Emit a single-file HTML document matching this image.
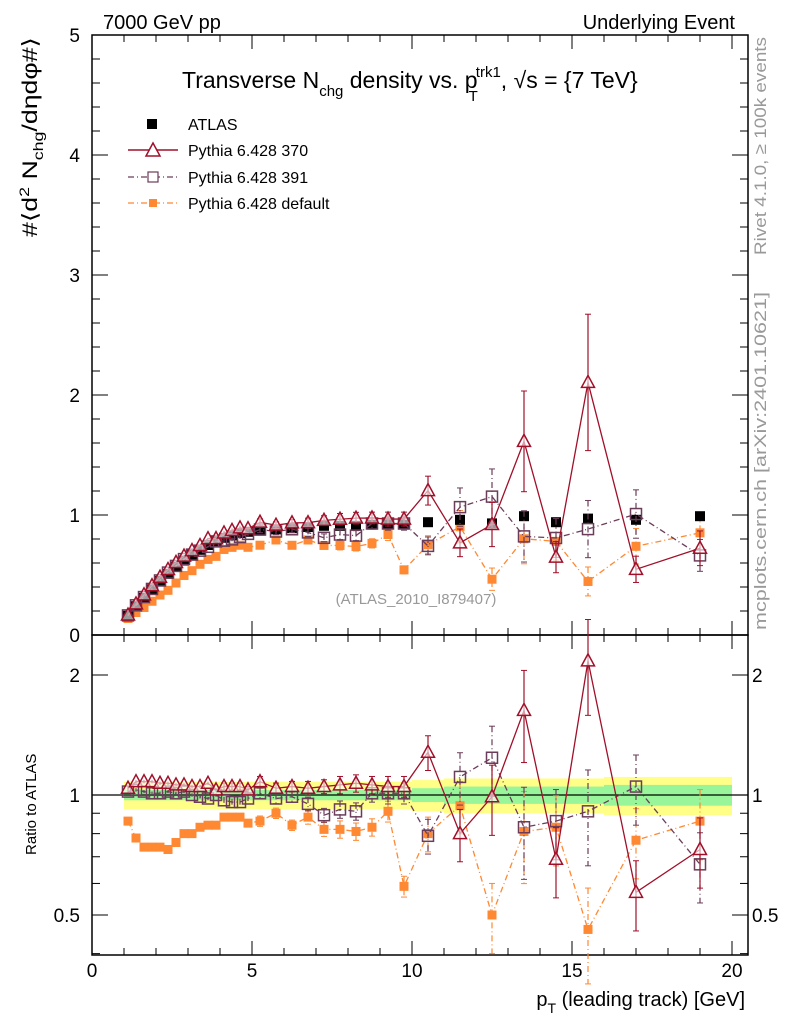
<!DOCTYPE html>
<html><head><meta charset="utf-8"><style>
body{margin:0;background:#fff}
svg{display:block;font-family:"Liberation Sans",sans-serif}
</style></head><body>
<svg id="c" width="786" height="1024" viewBox="0 0 786 1024">
<g id="bands"></g>
<g id="grid"></g>
<g id="series"></g>
<text x="103" y="29" font-size="20">7000 GeV pp</text>
<text x="735" y="29" font-size="20" text-anchor="end">Underlying Event</text>
<text x="182" y="88" font-size="23">Transverse N<tspan font-size="15" dy="8">chg</tspan><tspan dy="-8"> density vs. p</tspan><tspan font-size="15" dx="-9" dy="13">T</tspan><tspan font-size="15" dx="-2" dy="-24">trk1</tspan><tspan dy="11">, √s = {7 TeV}</tspan></text>
<g>
<rect x="147" y="119" width="10" height="10" fill="#000"/>
<text x="188" y="130" font-size="16">ATLAS</text>
<line x1="128" y1="150" x2="178" y2="150" stroke="#a0102a" stroke-width="1.5"/>
<path d="M146,156 L153,143 L160,156 Z" fill="#fff" stroke="#a0102a" stroke-width="1.5"/>
<text x="188" y="156" font-size="16">Pythia 6.428 370</text>
<line x1="128" y1="177" x2="178" y2="177" stroke="#6b3d5a" stroke-width="1.2" stroke-dasharray="6,3,1,3"/>
<rect x="148" y="172" width="10" height="10" fill="#fff" stroke="#6b3d5a" stroke-width="1.2"/>
<text x="188" y="183" font-size="16">Pythia 6.428 391</text>
<line x1="128" y1="203" x2="178" y2="203" stroke="#ff8833" stroke-width="1.2" stroke-dasharray="6,3,1,3"/>
<rect x="149" y="199" width="8" height="8" fill="#ff8833"/>
<text x="188" y="209" font-size="16">Pythia 6.428 default</text>
</g>
<text x="416" y="604" font-size="15" fill="#999" text-anchor="middle">(ATLAS_2010_I879407)</text>
<text transform="translate(766,255) rotate(-90)" font-size="17" textLength="218" lengthAdjust="spacingAndGlyphs" fill="#999">Rivet 4.1.0, ≥ 100k events</text>
<text transform="translate(766,630) rotate(-90)" font-size="17" textLength="338" lengthAdjust="spacingAndGlyphs" fill="#999">mcplots.cern.ch [arXiv:2401.10621]</text>
<text transform="translate(37,237) rotate(-90)" font-size="21" textLength="200" lengthAdjust="spacingAndGlyphs">#⟨d<tspan font-size="14" dy="-8">2</tspan><tspan dy="8"> N</tspan><tspan font-size="14" dy="6">chg</tspan><tspan dy="-6">/dηdφ#⟩</tspan></text>
<text transform="translate(36,855) rotate(-90)" font-size="15">Ratio to ATLAS</text>
<text x="745" y="1006" font-size="20" text-anchor="end">p<tspan font-size="14" dy="7">T</tspan><tspan dy="-7"> (leading track) [GeV]</tspan></text>
</svg>
<script>
const xs=[1.125,1.375,1.625,1.875,2.125,2.375,2.625,2.875,3.125,3.375,3.625,3.875,4.125,4.375,4.625,4.875,5.25,5.75,6.25,6.75,7.25,7.75,8.25,8.75,9.25,9.75,10.5,11.5,12.5,13.5,14.5,15.5,17,19];
const atlas=[0.16,0.24,0.31,0.38,0.45,0.51,0.57,0.62,0.67,0.71,0.75,0.78,0.81,0.83,0.85,0.86,0.87,0.88,0.89,0.9,0.91,0.91,0.91,0.92,0.92,0.92,0.94,0.96,0.93,0.99,0.94,0.97,0.96,0.99];
const r370=[1.04,1.08,1.08,1.08,1.07,1.07,1.06,1.06,1.05,1.05,1.07,1.03,1.05,1.05,1.05,1.03,1.08,1.04,1.05,1.04,1.05,1.06,1.07,1.06,1.05,1.05,1.28,0.8,0.99,1.63,0.69,2.17,0.57,0.73];
const r391=[1.02,1.03,1.02,1.01,1.01,1.02,1.01,1.02,1.0,0.99,0.98,1.0,0.97,0.96,0.96,0.98,1.01,0.98,0.99,0.95,0.89,0.92,0.91,1.01,1.01,1.01,0.79,1.11,1.24,0.83,0.86,0.91,1.05,0.67];
const rdef=[0.86,0.78,0.74,0.74,0.74,0.73,0.76,0.8,0.8,0.83,0.84,0.84,0.88,0.88,0.88,0.85,0.86,0.9,0.84,0.88,0.82,0.82,0.81,0.83,0.91,0.59,0.8,0.94,0.5,0.81,0.83,0.46,0.77,0.86];
const relErr=[0.01,0.01,0.01,0.01,0.01,0.01,0.01,0.01,0.01,0.01,0.01,0.01,0.02,0.02,0.02,0.02,0.03,0.03,0.03,0.04,0.04,0.05,0.05,0.05,0.06,0.06,0.1,0.15,0.2,0.26,0.2,0.27,0.2,0.2];
const bandTot=[0.08,0.08,0.08,0.08,0.08,0.08,0.08,0.08,0.08,0.08,0.08,0.08,0.08,0.08,0.08,0.08,0.08,0.08,0.08,0.08,0.08,0.08,0.08,0.08,0.08,0.08,0.09,0.1,0.1,0.1,0.1,0.1,0.11,0.11];
const bandStat=[0.03,0.03,0.03,0.03,0.03,0.03,0.03,0.03,0.03,0.03,0.03,0.03,0.03,0.03,0.03,0.03,0.03,0.03,0.03,0.03,0.03,0.03,0.03,0.03,0.03,0.03,0.04,0.05,0.05,0.05,0.05,0.05,0.06,0.06];
const binEdges=[1,1.25,1.5,1.75,2,2.25,2.5,2.75,3,3.25,3.5,3.75,4,4.25,4.5,4.75,5,5.5,6,6.5,7,7.5,8,8.5,9,9.5,10,11,12,13,14,15,16,18,20];

const NS='http://www.w3.org/2000/svg';
const L=92,R=748,T=35,MB=635,RB=955;
const X=v=>L+v*32, YM=v=>MB-v*120, YR=v=>795-120*Math.log2(v);
function mk(p,tag,a){const e=document.createElementNS(NS,tag);for(const k in a)e.setAttribute(k,a[k]);p.appendChild(e);return e;}
const g=document.getElementById('grid'),s=document.getElementById('series'),b=document.getElementById('bands');
for(let i=0;i<xs.length;i++){
 const x0=X(binEdges[i]),w=X(binEdges[i+1])-x0;
 const y=mk(b,'rect',{x:x0,y:YR(1+bandTot[i]),width:w,height:YR(1-bandTot[i])-YR(1+bandTot[i]),fill:'#ffff88'});
 
 
 const gr=mk(b,'rect',{x:x0,y:YR(1+bandStat[i]),width:w,height:YR(1-bandStat[i])-YR(1+bandStat[i]),fill:'#99f599'});
 
 
}
for(const [t,bt] of [[T,MB],[MB,RB]]){
 const f=mk(g,'rect',{x:L,y:t,width:R-L,height:bt-t,fill:'none',stroke:'#000','stroke-width':1.5});
 
 
 for(let v=0;v<=20.5;v++){const big=v%5==0,len=big?14:7;
  mk(g,'line',{x1:X(v),x2:X(v),y1:bt,y2:bt-len,stroke:'#000','stroke-width':1});
  mk(g,'line',{x1:X(v),x2:X(v),y1:t,y2:t+len,stroke:'#000','stroke-width':1});}
}
for(let i=0;i<=25;i++){const v=i*0.2,big=i%5==0,len=big?16:8,y=YM(v);
 mk(g,'line',{x1:L,x2:L+len,y1:y,y2:y,stroke:'#000'});mk(g,'line',{x1:R,x2:R-len,y1:y,y2:y,stroke:'#000'});
 if(big){const t=mk(g,'text',{x:80,y:y+7,'font-size':19,'text-anchor':'end'});t.textContent=String(v);
 
 }}
const rt=[0.4,0.5,0.6,0.7,0.8,0.9,1,2];
for(const v of rt){const y=YR(v),big=(v==0.5||v==1||v==2),len=big?16:8;
 mk(g,'line',{x1:L,x2:L+len,y1:y,y2:y,stroke:'#000'});mk(g,'line',{x1:R,x2:R-len,y1:y,y2:y,stroke:'#000'});
 if(big){for(const [xx,an] of [[80,'end'],[752,'start']]){const t=mk(g,'text',{x:xx,y:y+7,'font-size':19,'text-anchor':an});t.textContent=String(v);
 
 }}}
for(let v=0;v<=20;v+=5){const t=mk(g,'text',{x:X(v),y:977,'font-size':19,'text-anchor':'middle'});t.textContent=String(v);
 
 }
mk(g,'line',{x1:L,x2:R,y1:YR(1),y2:YR(1),stroke:'#000','stroke-width':1.2});
function draw(ratio,color,dash,marker,name){
 const mainV=xs.map((x,i)=>ratio[i]*atlas[i]);
 for(const [Y,vals] of [[YM,mainV],[YR,ratio]]){
  const pts=xs.map((x,i)=>X(x)+','+Y(vals[i])).join(' ');
  const pl=mk(s,'polyline',{points:pts,fill:'none',stroke:color,'stroke-width':1.3,'stroke-dasharray':dash});
  
  
  xs.forEach((x,i)=>{const v=vals[i],e=v*relErr[i],cx=X(x);
   const lo=Math.max(Y===YR?0.3:0.01,v-e);
   mk(s,'line',{x1:cx,x2:cx,y1:Y(v+e),y2:Y(lo),stroke:color,'stroke-width':1.2,'stroke-dasharray':dash});
   if(e>0.02){mk(s,'line',{x1:cx-3,x2:cx+3,y1:Y(v+e),y2:Y(v+e),stroke:color});mk(s,'line',{x1:cx-3,x2:cx+3,y1:Y(lo),y2:Y(lo),stroke:color});}
   const cy=Y(v);let m;
   if(marker=='tri')m=mk(s,'path',{d:`M${cx-6.5},${cy+5} L${cx},${cy-7} L${cx+6.5},${cy+5} Z`,fill:'#fff','fill-opacity':0.6,stroke:color,'stroke-width':1.5});
   else if(marker=='open')m=mk(s,'rect',{x:cx-5.5,y:cy-5.5,width:11,height:11,fill:'none',stroke:color,'stroke-width':1.5});
   else m=mk(s,'rect',{x:cx-4.5,y:cy-4.5,width:9,height:9,fill:color});
   
   
  });
 }
}
draw(rdef,'#ff8833','6,3,1,3','fill','pythia-default');
xs.forEach((x,i)=>{const m=mk(s,'rect',{x:X(x)-5,y:YM(atlas[i])-5,width:10,height:10,fill:'#000'});
 
 });
draw(r391,'#6b3d5a','6,3,1,3','open','pythia-391');
draw(r370,'#a0102a','','tri','pythia-370');
</script>
</body></html>
